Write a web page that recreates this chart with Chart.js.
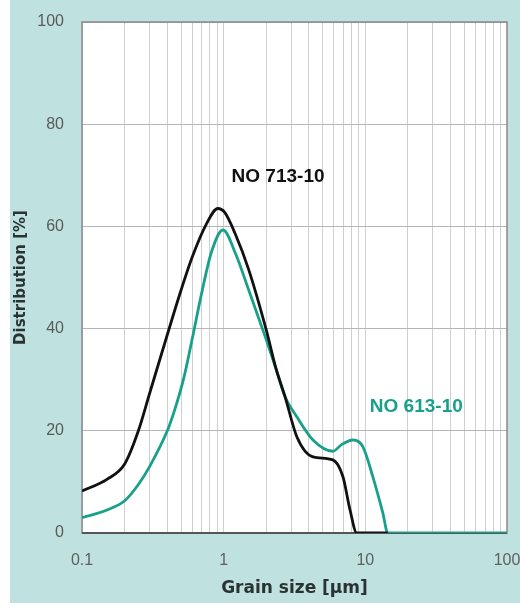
<!DOCTYPE html>
<html>
<head>
<meta charset="utf-8">
<script src="https://cdn.jsdelivr.net/npm/chart.js@4/dist/chart.umd.min.js"></script>
<style>
  html, body { margin: 0; padding: 0; background: #fff; }
  #wrap { width: 520px; height: 608px; }
</style>
</head>
<body>
<div id="wrap"><canvas id="chart" width="520" height="608"></canvas></div>
<script>
// grain size (µm) and distribution (%)
const sizes713 = [0.1, 0.15, 0.2, 0.25, 0.3, 0.4, 0.5, 0.6, 0.75, 0.91, 1.02, 1.2, 1.5, 2.0, 2.35, 2.71, 3.29, 4.27, 5.9, 6.95, 7.8, 8.7, 14.4];
const dist713 = [8.2, 10.5, 13.5, 20, 27.3, 38.8, 47.5, 54, 60.3, 63.5, 62.7, 58.7, 51.6, 39.7, 32, 26.7, 18.8, 14.9, 14.3, 11, 4.5, 0, 0];

const sizes613 = [0.1, 0.15, 0.2, 0.25, 0.3, 0.4, 0.45, 0.525, 0.6, 0.7, 0.82, 0.99, 1.22, 1.5, 2.0, 2.35, 2.71, 3.29, 4.27, 5.9, 6.8, 8.18, 9.6, 11.3, 13.3, 14.4, 100];
const dist613 = [3, 4.5, 6.3, 9.5, 13, 20, 24, 30.5, 38, 47, 55, 59.3, 54.5, 47.6, 37.8, 32, 26.7, 22.7, 18.2, 16, 17.3, 18.2, 16.9, 11, 3.9, 0, 0];

const seriesNames = ['NO 713-10', 'NO 613-10'];
const xTickLabels = [0.1, 1, 10, 100];
const yTicks = [0, 20, 40, 60, 80, 100];

// where the series names sit, in data units
const nameX = [2.42, 22.9];
const nameY = [69.7, 24.8];

const black = '#111111';
const teal = '#18a08b';

const toPoints = (xs, ys) => xs.map((x, i) => ({ x, y: ys[i] }));

const backdrop = {
  id: 'backdrop',
  beforeDraw(chart) {
    const { ctx, chartArea: a } = chart;
    ctx.save();
    ctx.fillStyle = '#ffffff';
    ctx.fillRect(0, 0, chart.width, chart.height);
    ctx.fillStyle = '#bfe1e0';
    ctx.fillRect(10, 0, chart.width - 10, 603);
    ctx.fillStyle = '#ffffff';
    ctx.fillRect(a.left, a.top, a.right - a.left, a.bottom - a.top);
    ctx.restore();
  },
  beforeDatasetsDraw(chart) {
    const { ctx, chartArea: a } = chart;
    ctx.save();
    ctx.strokeStyle = '#8a8a8a';
    ctx.lineWidth = 1.5;
    ctx.strokeRect(a.left, a.top, a.right - a.left, a.bottom - a.top);
    ctx.strokeStyle = '#555';
    ctx.lineWidth = 2;
    ctx.beginPath();
    ctx.moveTo(a.left, a.bottom);
    ctx.lineTo(a.right, a.bottom);
    ctx.stroke();
    ctx.restore();
  },
  afterDatasetsDraw(chart) {
    const { ctx, scales } = chart;
    ctx.save();
    ctx.font = 'bold 19px "Liberation Sans", Arial, sans-serif';
    ctx.textAlign = 'center';
    ctx.textBaseline = 'middle';
    seriesNames.forEach((name, i) => {
      ctx.fillStyle = i === 0 ? black : teal;
      ctx.fillText(name, scales.x.getPixelForValue(nameX[i]), scales.y.getPixelForValue(nameY[i]));
    });
    ctx.restore();
  }
};

new Chart(document.getElementById('chart'), {
  type: 'line',
  data: {
    datasets: [
      { label: seriesNames[1], data: toPoints(sizes613, dist613), borderColor: teal, borderWidth: 2.8, pointRadius: 0, cubicInterpolationMode: 'monotone', order: 2 },
      { label: seriesNames[0], data: toPoints(sizes713, dist713), borderColor: black, borderWidth: 2.8, pointRadius: 0, cubicInterpolationMode: 'monotone', order: 1 }
    ]
  },
  options: {
    responsive: false,
    animation: false,
    layout: { padding: { top: 22, right: 13, left: 0, bottom: 0 } },
    plugins: { legend: { display: false }, tooltip: { enabled: false } },
    scales: {
      x: {
        type: 'logarithmic',
        min: 0.1,
        max: 100,
        afterBuildTicks(scale) {
          const ticks = [];
          for (let d = 0.1; d < 100; d *= 10) {
            for (let m = 1; m < 10; m++) ticks.push({ value: +(d * m).toPrecision(3) });
          }
          ticks.push({ value: 100 });
          scale.ticks = ticks;
        },
        afterFit(scale) {
          scale.height = 75;
          scale.paddingLeft = 0;
          scale.paddingRight = 0;
        },
        grid: { color: '#cfcfcf', lineWidth: 1, drawTicks: false },
        border: { display: false },
        ticks: {
          autoSkip: false,
          maxRotation: 0,
          padding: 18,
          color: '#606060',
          font: { family: '"Liberation Sans", Arial, sans-serif', size: 16 },
          callback: v => xTickLabels.includes(+v.toPrecision(3)) ? String(+v.toPrecision(3)) : ''
        },
        title: {
          display: true,
          text: 'Grain size [µm]',
          color: '#2a3333',
          font: { family: '"DejaVu Sans", sans-serif', size: 17, weight: 'bold' },
          padding: { top: 0, bottom: 9 }
        }
      },
      y: {
        min: 0,
        max: 100,
        afterBuildTicks(scale) { scale.ticks = yTicks.map(v => ({ value: v })); },
        afterFit(scale) {
          scale.width = 82;
          scale.paddingTop = 0;
          scale.paddingBottom = 0;
        },
        grid: { color: '#b5b5b5', lineWidth: 1, drawTicks: false },
        border: { display: false },
        ticks: {
          padding: 18,
          color: '#5a5a5a',
          font: { family: '"Liberation Sans", Arial, sans-serif', size: 16 }
        },
        title: {
          display: true,
          text: 'Distribution [%]',
          color: '#2a3333',
          font: { family: '"DejaVu Sans", sans-serif', size: 15, weight: 'bold' },
          padding: { top: 12, bottom: 0 }
        }
      }
    }
  },
  plugins: [backdrop]
});
</script>
</body>
</html>
